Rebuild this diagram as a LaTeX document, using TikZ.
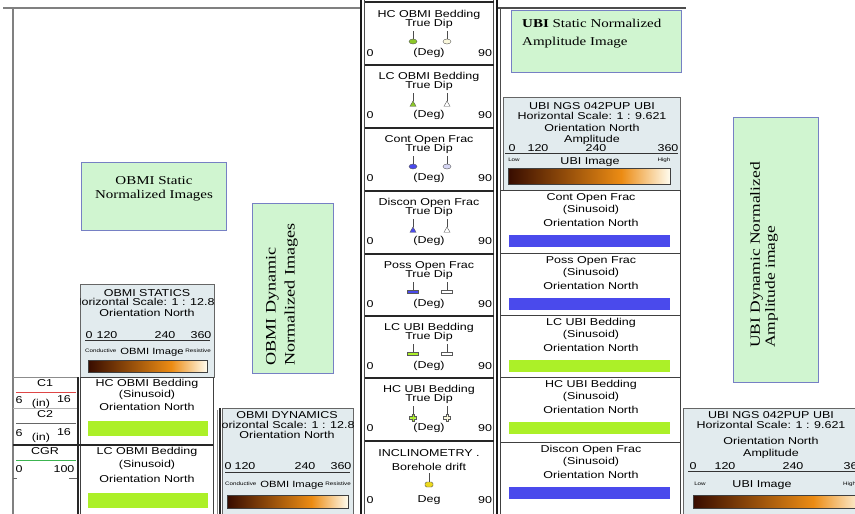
\documentclass[tikz,border=0pt]{standalone}
\usepackage{fontspec}
\setmainfont{Liberation Serif}
\newfontfamily\logsans[FakeStretch=1.25]{Liberation Sans}
\newfontfamily\logserif[FakeStretch=1.25]{Liberation Serif}
\usetikzlibrary{shapes.geometric,calc}
\definecolor{labelGreen}{RGB}{208,245,208}
\definecolor{labelEdge}{RGB}{118,128,196}
\definecolor{hdrFill}{RGB}{226,235,238}
\definecolor{fracBlue}{RGB}{74,74,236}
\definecolor{bedGreen}{RGB}{172,240,40}
\definecolor{tadGreen}{RGB}{140,200,40}
\definecolor{paleFill}{RGB}{250,248,220}
\definecolor{lavFill}{RGB}{214,214,244}
\definecolor{caliperRed}{RGB}{222,70,70}
\definecolor{grGreen}{RGB}{60,180,80}
\definecolor{driftYellow}{RGB}{236,216,30}
\definecolor{barDark}{RGB}{55,12,0}
\definecolor{barMid}{RGB}{236,140,20}
\definecolor{barLight}{RGB}{255,252,238}

\newcommand\logtxt{\fontsize{10}{11}\selectfont\logsans}
\newcommand\logmid{\fontsize{9}{10}\selectfont\logsans}
\newcommand\logtiny{\fontsize{5}{6}\selectfont\logsans}
\newcommand\colourbar[4]{%
  \pgfmathsetmacro\cbsplit{#1+0.7*(#3-#1)}%
  \shade[left color=barDark,right color=barMid] (#1,#2) rectangle (\cbsplit,#4);%
  \shade[left color=barMid,right color=barLight] (\cbsplit,#2) rectangle (#3,#4);%
  \draw[black!75,line width=0.6pt] (#1,#2) rectangle (#3,#4);}

\begin{document}
\begin{tikzpicture}[x=1pt,y=-1pt,
    txt/.style={font=\logtxt,inner sep=0pt},
    small/.style={font=\logtiny,inner sep=0pt},
    frame/.style={draw=black!50,line width=1.6pt},
    rule/.style={draw=black!85,line width=1.1pt},
    cellbox/.style={draw=black!75,line width=0.8pt},
    hdrbox/.style={draw=black!60,fill=hdrFill,line width=0.8pt},
    lbl/.style={draw=labelEdge,fill=labelGreen,line width=0.6pt},
    stem/.style={draw=black!70,line width=0.5pt},
    mk/.style={draw=black!65,line width=0.4pt,inner sep=0pt},
    dot/.style={mk,ellipse,minimum width=8pt,minimum height=5pt},
    tri/.style={mk,regular polygon,regular polygon sides=3,minimum size=7pt},
    flat/.style={mk,rectangle,minimum width=11pt,minimum height=3pt},
    plusmark/.pic={\filldraw[draw=black!65,line width=0.4pt,fill=#1]
      (-1.2,-3.5) -- (1.2,-3.5) -- (1.2,-1.2) -- (3.5,-1.2) -- (3.5,1.2) -- (1.2,1.2)
      -- (1.2,3.5) -- (-1.2,3.5) -- (-1.2,1.2) -- (-3.5,1.2) -- (-3.5,-1.2) -- (-1.2,-1.2) -- cycle;}]

    \useasboundingbox (0,0) rectangle (855,514);
    \clip (0,0) rectangle (855,514);

    % frame of the log header
    \draw[frame] (3,8) -- (361,8);
    \draw[frame] (13,8) -- (13,514);
    \draw[frame,draw=black!70] (497,8) -- (686,8);

    % green caption boxes
    \draw[lbl] (81,162) rectangle (226,230);
    \node[font=\fontsize{12}{14}\selectfont\logserif,align=center,inner sep=0pt]
      (obmiStatCap) at (154,189) {OBMI Static\\Normalized Images};
    \draw[lbl] (252,203) rectangle (333,373);
    \node[font=\fontsize{14.5}{19}\selectfont\logserif,align=left,inner sep=0pt,
      rotate=90,anchor=west] (obmiDynCap) at (282,366) {OBMI Dynamic\\Normalized Images};
    \draw[lbl] (511,10) rectangle (681,72);
    \node[font=\fontsize{12}{18}\selectfont\logserif,align=left,inner sep=0pt,anchor=west]
      (ubiStatCap) at (522,34) {\textbf{UBI} Static Normalized\\Amplitude Image};
    \draw[lbl] (733,117) rectangle (818,382);
    \node[font=\fontsize{14}{15}\selectfont\logserif,align=left,inner sep=0pt,
      rotate=90,anchor=west] (ubiDynCap) at (764,348) {UBI Dynamic Normalized\\Amplitude image};

    % OBMI statics header
    \draw[hdrbox] (80,284) rectangle (214,377);
    \begin{scope}
      \clip (80,284) rectangle (214,377);
      \node[txt] (statName) at (147,293) {OBMI STATICS};
      \node[txt] (statScale) at (147,302) {Horizontal Scale: 1 : 12.82};
    \end{scope}
    \node[txt] (statOri) at (147,313) {Orientation North};
    \node[txt] (statA) at (89,335) {0};
    \node[txt] (statB) at (107,335) {120};
    \node[txt] (statC) at (165,335) {240};
    \node[txt] (statD) at (201,335) {360};
    \draw[black!80,line width=0.7pt] (85,340) -- (210,340);
    \node[small,anchor=west] (statCond) at (85,351) {Conductive};
    \node[txt,font=\logmid] (statImg) at (152,352) {OBMI Image};
    \node[small,anchor=east] (statRes) at (211,351) {Resistive};
    \colourbar{88}{360}{207}{372}

    % OBMI bedding cells
    \draw[cellbox] (80,377) rectangle (213,445);
    \node[txt] (hcObmi) at (147,384) {HC OBMI Bedding};
    \node[txt] (hcObmiS) at (147,395) {(Sinusoid)};
    \node[txt] (hcObmiO) at (147,407) {Orientation North};
    \fill[bedGreen] (88,421) rectangle (208,436);
    \draw[cellbox] (80,445) rectangle (213,520);
    \node[txt] (lcObmi) at (147,452) {LC OBMI Bedding};
    \node[txt] (lcObmiS) at (147,465) {(Sinusoid)};
    \node[txt] (lcObmiO) at (147,479) {Orientation North};
    \fill[bedGreen] (88,493) rectangle (208,508);
    \draw[draw=black!45,line width=0.8pt] (217,410) -- (217,514);

    % caliper and gamma ray scales
    \draw[black!45,line width=0.6pt] (13,377) -- (78,377);
    \node[txt] (cOne) at (45,383) {C1};
    \draw[caliperRed,line width=0.8pt] (16,392) -- (76,392);
    \node[txt] (cOneA) at (19,400) {6};
    \node[txt] (cOneB) at (41,404) {(in)};
    \node[txt] (cOneC) at (64,399) {16};
    \draw[black!30,line width=0.6pt] (13,408) -- (78,408);
    \node[txt] (cTwo) at (45,414) {C2};
    \draw[black!60,line width=0.8pt] (16,423) -- (76,423);
    \node[txt] (cTwoA) at (19,433) {6};
    \node[txt] (cTwoB) at (41,438) {(in)};
    \node[txt] (cTwoC) at (64,432) {16};
    \node[txt] (cgr) at (45,451) {CGR};
    \draw[grGreen,line width=0.8pt] (16,460) -- (76,460);
    \node[txt] (cgrA) at (19,469) {0};
    \node[txt] (cgrB) at (64,469) {100};
    \draw[black!60,line width=0.6pt] (13,478) -- (17,478);
    \draw[black!60,line width=0.6pt] (69,478) -- (77,478);
    \draw[rule,line width=1.4pt] (13,445) -- (213,445);
    \draw[rule,line width=1.6pt] (78,377) -- (78,514);

    % OBMI dynamics header
    \draw[hdrbox] (222,408) rectangle (353,520);
    \draw[rule,line width=1.6pt] (220,408) -- (220,514);
    \begin{scope}
      \clip (222,408) rectangle (353,520);
      \node[txt] (dynName) at (287,415) {OBMI DYNAMICS};
      \node[txt] (dynScale) at (287,425) {Horizontal Scale: 1 : 12.82};
    \end{scope}
    \node[txt] (dynOri) at (287,435) {Orientation North};
    \node[txt] (dynA) at (228,466) {0};
    \node[txt] (dynB) at (245,466) {120};
    \node[txt] (dynC) at (305,466) {240};
    \node[txt] (dynD) at (341,466) {360};
    \draw[black!80,line width=0.7pt] (225,472) -- (350,472);
    \node[small,anchor=west] (dynCond) at (225,484) {Conductive};
    \node[txt,font=\logmid] (dynImg) at (292,485) {OBMI Image};
    \node[small,anchor=east] (dynRes) at (351,484) {Resistive};
    \colourbar{227}{495}{348}{508}

    % true dip legend column
    \draw[black!90,line width=1.3pt] (361,0) -- (361,514);
    \draw[black!70,line width=0.6pt] (364.5,0) -- (364.5,514);
    \draw[black!70,line width=0.6pt] (493.5,0) -- (493.5,514);
    \draw[black!90,line width=1.3pt] (497,0) -- (497,514);
    \foreach \yy in {2,65,128,191,254,316,378,441}
      \draw[rule] (364.5,\yy) -- (493.5,\yy);
    \foreach \yy/\ttl [count=\i] in {3/HC OBMI Bedding,65/LC OBMI Bedding,
        128/Cont Open Frac,191/Discon Open Frac,254/Poss Open Frac,
        316/LC UBI Bedding,378/HC UBI Bedding}{
      \node[txt] (dipT\i) at (429,\yy+12) {\ttl};
      \node[txt] (dipS\i) at (429,\yy+20.5) {True Dip};
      \node[txt] (dipA\i) at (370,\yy+50) {0};
      \node[txt] (dipB\i) at (429,\yy+50) {(Deg)};
      \node[txt] (dipC\i) at (485,\yy+50) {90};
      \draw[stem] (413,\yy+28) -- (413,\yy+36);
      \draw[stem] (447,\yy+28) -- (447,\yy+36);
    }
    % filled symbol left, hollow symbol right
    \node[dot,fill=tadGreen] (mkL1) at (413,41.5) {};
    \node[dot,fill=paleFill] (mkR1) at (447,41.5) {};
    \node[tri,fill=tadGreen] (mkL2) at (413,104.5) {};
    \node[tri,fill=white] (mkR2) at (447,104.5) {};
    \node[dot,fill=fracBlue] (mkL3) at (413,166.5) {};
    \node[dot,fill=lavFill] (mkR3) at (447,166.5) {};
    \node[tri,fill=fracBlue] (mkL4) at (413,230.5) {};
    \node[tri,fill=white] (mkR4) at (447,230.5) {};
    \node[flat,fill=fracBlue] (mkL5) at (413,291.5) {};
    \node[flat,fill=white] (mkR5) at (447,291.5) {};
    \node[flat,fill=bedGreen] (mkL6) at (413,353.5) {};
    \node[flat,fill=white] (mkR6) at (447,353.5) {};
    \pic at (413,417.5) {plusmark=bedGreen};
    \pic at (447,417.5) {plusmark=paleFill};
    % inclinometry
    \node[txt] (incl) at (429,453) {INCLINOMETRY .};
    \node[txt] (inclSub) at (429,467) {Borehole drift};
    \draw[stem] (429,473) -- (429,482);
    \node[mk,rectangle,rounded corners=1.5pt,fill=driftYellow,minimum width=8pt,
      minimum height=5pt] (drift) at (429,484.5) {};
    \node[txt] (inclA) at (370,500) {0};
    \node[txt] (inclB) at (429,500) {Deg};
    \node[txt] (inclC) at (485,500) {90};

    % UBI statics header
    \draw[black!70,line width=0.6pt] (500,8) -- (500,514);
    \draw[hdrbox] (503,97) rectangle (680,190);
    \node[txt] (ubiName) at (592,106) {UBI NGS 042PUP UBI};
    \node[txt] (ubiScale) at (592,116) {Horizontal Scale: 1 : 9.621};
    \node[txt] (ubiOri) at (592,128) {Orientation North};
    \node[txt] (ubiAmp) at (592,140) {Amplitude};
    \node[txt] (ubiA) at (512,148) {0};
    \node[txt] (ubiB) at (538,148) {120};
    \node[txt] (ubiC) at (596,148) {240};
    \node[txt] (ubiD) at (668,148) {360};
    \draw[black!80,line width=0.7pt] (505,153) -- (678,153);
    \node[small] (ubiLow) at (514,160) {Low};
    \node[txt] (ubiImg) at (590,162) {UBI Image};
    \node[small] (ubiHigh) at (664,160) {High};
    \colourbar{508}{168}{670}{184}

    % UBI sinusoid cells
    \foreach \yy/\yb/\ttl/\col [count=\i] in {190/253/Cont Open Frac/fracBlue,
        253/315/Poss Open Frac/fracBlue,315/377/LC UBI Bedding/bedGreen,
        377/442/HC UBI Bedding/bedGreen,442/520/Discon Open Frac/fracBlue}{
      \draw[cellbox] (500,\yy) rectangle (680,\yb);
      \node[txt] (sinT\i) at (591,\yy+8) {\ttl};
      \node[txt] (sinS\i) at (591,\yy+20) {(Sinusoid)};
      \node[txt] (sinO\i) at (591,\yy+33) {Orientation North};
      \fill[\col] (509,\yy+45) rectangle (670,\yy+57);
    }

    % UBI dynamics header
    \draw[hdrbox] (683,408) rectangle (870,520);
    \node[txt] (dubiName) at (771,415) {UBI NGS 042PUP UBI};
    \node[txt] (dubiScale) at (771,425) {Horizontal Scale: 1 : 9.621};
    \node[txt] (dubiOri) at (771,441) {Orientation North};
    \node[txt] (dubiAmp) at (771,454) {Amplitude};
    \node[txt] (dubiA) at (693,466) {0};
    \node[txt] (dubiB) at (725,466) {120};
    \node[txt] (dubiC) at (793,466) {240};
    \node[txt] (dubiD) at (854,466) {360};
    \draw[black!80,line width=0.7pt] (688,471) -- (860,471);
    \node[small] (dubiLow) at (700,484) {Low};
    \node[txt] (dubiImg) at (762,485) {UBI Image};
    \node[small,anchor=west] (dubiHigh) at (843,484) {High};
    \colourbar{693}{495}{865}{508}
\end{tikzpicture}
\end{document}
